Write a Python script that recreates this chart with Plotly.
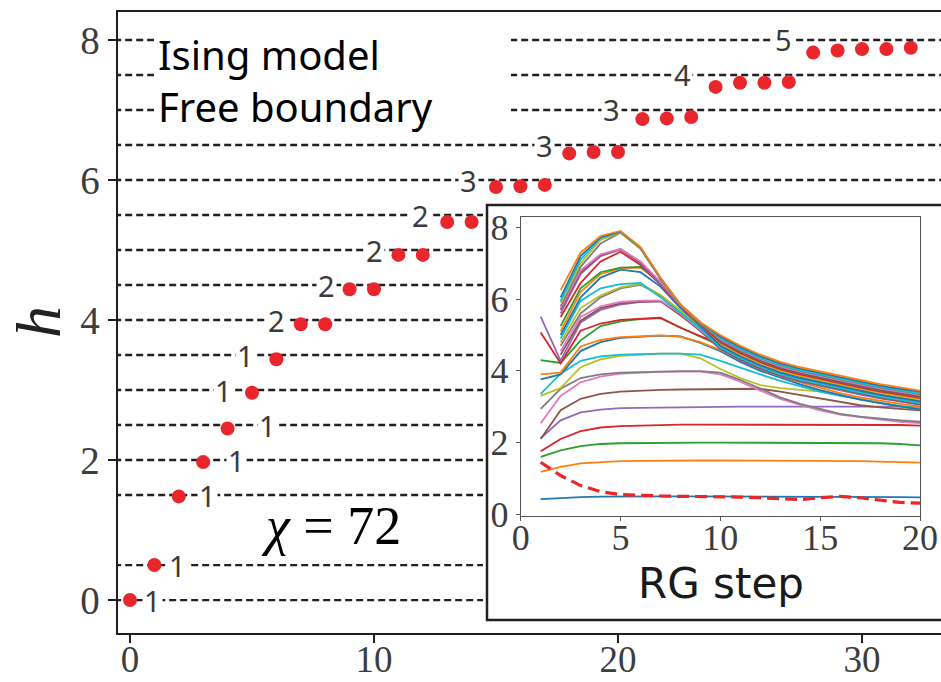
import plotly.graph_objects as go

# ---------------- data ----------------
state_index = list(range(33))
h_values = [0.00, 0.50, 1.48, 1.97, 2.45, 2.96, 3.44, 3.94, 3.94, 4.44, 4.44,
            4.93, 4.93, 5.40, 5.40, 5.90, 5.91, 5.93, 6.38, 6.40, 6.40,
            6.87, 6.88, 6.90, 7.33, 7.39, 7.39, 7.40, 7.82, 7.85, 7.87, 7.87, 7.89]

levels = [0, 0.5, 1.5, 2, 2.5, 3, 3.5, 4, 4.5, 5, 5.5, 6, 6.5, 7, 7.5, 8]
degeneracy = [1, 1, 1, 1, 1, 1, 1, 2, 2, 2, 2, 3, 3, 3, 4, 5]

main_xticks = [0, 10, 20, 30]
main_yticks = [0, 2, 4, 6, 8]
inset_xticks = [0, 5, 10, 15, 20]
inset_yticks = [0, 2, 4, 6, 8]

rg_steps = list(range(1, 21))
N = None
flow_01 = [0.42,0.46,0.48,0.49,0.50,0.50,0.50,0.50,0.50,0.50,0.50,0.50,0.50,0.50,0.50,0.50,0.49,0.48,0.48,0.47]
flow_02 = [1.18,1.32,1.42,1.46,1.48,1.49,1.50,1.50,1.50,1.50,1.50,1.50,1.50,1.50,1.50,1.49,1.48,1.47,1.46,1.44]
flow_03 = [1.60,1.78,1.90,1.96,1.98,1.99,2.00,2.00,2.00,2.00,2.00,2.00,2.00,2.00,2.00,2.00,1.99,1.98,1.96,1.92]
flow_04 = [1.76,2.10,2.32,2.42,2.46,2.48,2.49,2.50,2.50,2.50,2.50,2.50,2.50,2.51,2.51,2.51,2.50,2.50,2.49,2.47]
flow_05 = [2.12,2.62,2.84,2.92,2.96,2.97,2.98,2.99,2.99,3.00,3.00,3.00,3.00,3.00,3.01,3.01,3.01,3.00,3.00,3.00]
flow_06 = [2.10,2.90,3.22,3.36,3.42,3.45,3.47,3.48,3.49,3.49,3.50,3.50,3.42,3.32,3.22,3.12,3.04,2.98,2.94,2.90]
flow_07 = [2.54,3.30,3.68,3.84,3.92,3.95,3.97,3.98,3.98,3.90,3.70,3.45,3.22,3.05,2.90,2.78,2.70,2.64,2.58,2.54]
flow_08 = [2.94,3.50,3.80,3.90,3.95,3.97,3.98,3.99,3.99,3.95,3.75,3.50,3.26,3.08,2.93,2.80,2.72,2.66,2.62,2.58]
flow_09 = [3.30,3.52,4.10,4.32,4.42,4.46,4.48,4.48,4.35,4.05,3.80,3.60,3.52,3.47,3.42,3.32,3.20,3.10,3.00,2.92]
flow_10 = [3.36,3.92,4.28,4.40,4.45,4.47,4.48,4.48,4.45,4.28,4.08,3.90,3.72,3.56,3.42,3.30,3.20,3.10,3.02,2.95]
flow_11 = [3.76,3.90,4.55,4.80,4.92,4.96,4.98,4.96,4.78,4.55,4.25,4.00,3.80,3.62,3.46,3.32,3.20,3.10,3.00,2.92]
flow_12 = [3.90,3.95,4.68,4.86,4.94,4.97,4.99,4.95,4.80,4.58,4.30,4.05,3.85,3.68,3.52,3.38,3.26,3.16,3.08,3.00]
flow_13 = [4.30,4.22,4.85,5.25,5.38,5.44,5.47,5.20,4.95,4.70,4.44,4.20,4.00,3.84,3.70,3.56,3.44,3.32,3.20,3.10]
flow_14 = [5.07,4.21,5.12,5.32,5.42,5.46,5.48,5.20,4.98,4.74,4.50,4.26,4.06,3.90,3.75,3.61,3.49,3.38,3.29,3.20]
flow_15 = [5.51,4.28,5.35,5.70,5.85,5.92,5.95,5.60,5.10,4.60,4.30,4.05,3.85,3.70,3.58,3.45,3.34,3.23,3.14,3.05]
flow_16 = [N,4.45,5.40,5.75,5.88,5.93,5.94,5.55,5.12,4.62,4.32,4.07,3.87,3.72,3.60,3.47,3.36,3.25,3.16,3.07]
flow_17 = [N,4.55,5.50,5.80,5.92,5.96,5.96,5.60,5.15,4.68,4.38,4.13,3.93,3.78,3.66,3.53,3.42,3.31,3.22,3.13]
flow_18 = [N,4.70,5.60,6.05,6.30,6.40,6.10,5.65,5.20,4.72,4.42,4.17,3.97,3.82,3.70,3.57,3.46,3.35,3.26,3.17]
flow_19 = [N,4.80,5.75,6.10,6.33,6.42,6.12,5.68,5.22,4.75,4.45,4.20,4.00,3.85,3.73,3.60,3.49,3.38,3.29,3.20]
flow_20 = [N,4.90,5.95,6.30,6.42,6.45,6.05,5.62,5.18,4.65,4.35,4.10,3.90,3.75,3.63,3.50,3.39,3.28,3.19,3.10]
flow_21 = [N,5.00,6.05,6.60,6.82,6.75,6.35,5.75,5.25,4.70,4.40,4.15,3.95,3.80,3.68,3.55,3.44,3.33,3.24,3.15]
flow_22 = [N,5.10,6.20,6.70,6.86,6.88,6.45,5.80,5.30,4.78,4.48,4.23,4.03,3.88,3.76,3.63,3.52,3.41,3.32,3.23]
flow_23 = [N,5.25,6.30,6.75,6.88,6.90,6.50,5.82,5.30,4.84,4.54,4.29,4.09,3.94,3.82,3.69,3.58,3.47,3.38,3.29]
flow_24 = [N,5.50,6.45,7.05,7.32,6.95,6.40,5.80,5.30,4.80,4.50,4.25,4.05,3.90,3.78,3.65,3.54,3.43,3.34,3.25]
flow_25 = [N,5.60,6.70,7.20,7.38,7.00,6.42,5.82,5.32,4.86,4.56,4.31,4.11,3.96,3.84,3.71,3.60,3.49,3.40,3.31]
flow_26 = [N,5.70,6.75,7.22,7.40,7.02,6.45,5.83,5.32,4.82,4.52,4.27,4.07,3.92,3.80,3.67,3.56,3.45,3.36,3.27]
flow_27 = [N,5.75,6.80,7.25,7.40,7.05,6.48,5.84,5.33,4.88,4.58,4.33,4.13,3.98,3.86,3.73,3.62,3.51,3.42,3.33]
flow_28 = [N,5.80,6.90,7.55,7.85,7.40,6.56,5.83,5.33,4.90,4.60,4.35,4.15,4.00,3.88,3.75,3.64,3.53,3.44,3.35]
flow_29 = [N,5.90,7.00,7.65,7.86,7.42,6.58,5.84,5.34,4.94,4.64,4.39,4.19,4.04,3.92,3.79,3.68,3.57,3.48,3.39]
flow_30 = [N,5.95,7.10,7.70,7.88,7.43,6.58,5.84,5.34,4.92,4.62,4.37,4.17,4.02,3.90,3.77,3.66,3.55,3.46,3.37]
flow_31 = [N,6.05,7.20,7.72,7.88,7.44,6.59,5.85,5.35,4.96,4.66,4.41,4.21,4.06,3.94,3.81,3.70,3.59,3.50,3.42]
flow_32 = [N,6.25,7.30,7.76,7.90,7.45,6.60,5.85,5.35,5.00,4.70,4.45,4.25,4.10,3.98,3.85,3.74,3.63,3.54,3.45]
flow_dashed = [1.45,1.08,0.80,0.63,0.55,0.52,0.51,0.50,0.50,0.49,0.48,0.46,0.43,0.41,0.46,0.50,0.46,0.40,0.33,0.31]

flows = [flow_01, flow_02, flow_03, flow_04, flow_05, flow_06, flow_07, flow_08,
         flow_09, flow_10, flow_11, flow_12, flow_13, flow_14, flow_15, flow_16,
         flow_17, flow_18, flow_19, flow_20, flow_21, flow_22, flow_23, flow_24,
         flow_25, flow_26, flow_27, flow_28, flow_29, flow_30, flow_31, flow_32]

# ---------------- layout helpers ----------------
W, H = 941, 682


def px(x):
    return x / W


def py(y):
    return 1 - y / H


tab10 = ['#1f77b4', '#ff7f0e', '#2ca02c', '#d62728', '#9467bd',
         '#8c564b', '#e377c2', '#7f7f7f', '#bcbd22', '#17becf']
ink = '#231f20'
tick_col = '#3d3d3d'
dot_red = '#e8262b'

# label placement: offset (in x units) from first dot (left) or last dot (right)
label_side = ['r', 'r', 'r', 'r', 'r', 'l', 'l', 'l', 'l', 'l', 'l', 'l', 'l', 'l', 'l', 'l']
label_off = [0.91, 0.95, 1.18, 1.37, 1.64, 1.15, 1.26, 0.99, 0.94, 1.0, 1.09, 1.11, 1.03, 1.25, 1.34, 1.2]

fig = go.Figure()

# dashed level lines
dx, dy = [], []
for lv in levels:
    dx += [-2, 40, None]
    dy += [lv, lv, None]
fig.add_trace(go.Scatter(x=dx, y=dy, mode='lines', xaxis='x', yaxis='y',
                         line=dict(color=ink, width=2.3, dash='7px,4px'),
                         hoverinfo='skip', showlegend=False))
fig.add_trace(go.Scatter(x=state_index, y=h_values, mode='markers', xaxis='x', yaxis='y',
                         marker=dict(size=14, color=dot_red), cliponaxis=False,
                         showlegend=False))

# frame subplot (x2,y2): invisible helper trace so the subplot exists
fig.add_trace(go.Scatter(x=[600], y=[400], mode='markers', xaxis='x2', yaxis='y2',
                         marker=dict(size=1, opacity=0), hoverinfo='skip', showlegend=False))

# inset flows
for i, f in enumerate(flows):
    fig.add_trace(go.Scatter(x=rg_steps, y=f, mode='lines', xaxis='x3', yaxis='y3',
                             line=dict(color=tab10[i % 10], width=1.8),
                             hoverinfo='skip', showlegend=False))
fig.add_trace(go.Scatter(x=rg_steps, y=flow_dashed, mode='lines', xaxis='x3', yaxis='y3',
                         line=dict(color='#ee2427', width=3.2, dash='12px,6px'),
                         hoverinfo='skip', showlegend=False))

annotations = []
# degeneracy labels
for k, lv in enumerate(levels):
    idx = [i for i, v in enumerate(h_values) if abs(v - lv) < 0.25]
    if label_side[k] == 'r':
        xl = max(idx) + label_off[k]
    else:
        xl = min(idx) - label_off[k]
    annotations.append(dict(x=xl, y=lv, xref='x', yref='y', text=str(degeneracy[k]),
                            showarrow=False, font=dict(family='Noto Sans', size=29, color='#3a3a3a'),
                            bgcolor='white', borderpad=1, xanchor='center', yanchor='middle'))

annotations += [
    dict(x=px(156), y=py(80), xref='paper', yref='paper', xanchor='left', yanchor='middle',
         text='Ising model<br>Free boundary', align='left', showarrow=False,
         font=dict(family='Noto Sans', size=40, color='black')),
    dict(x=px(331), y=py(526), xref='paper', yref='paper', xanchor='center', yanchor='middle',
         text='<i>χ</i> = 72', showarrow=False,
         font=dict(family='Liberation Serif', size=54, color='black')),
    dict(x=px(38), y=py(322), xref='paper', yref='paper', xanchor='center', yanchor='middle',
         text='<i>h</i>', textangle=-90, showarrow=False,
         font=dict(family='Liberation Serif', size=64, color='#222222')),
    dict(x=px(721), y=py(583), xref='paper', yref='paper', xanchor='center', yanchor='middle',
         text='RG step', showarrow=False,
         font=dict(family='DejaVu Sans', size=42, color='#1a1a1a')),
]

shapes = [
    # white box behind the title text
    dict(type='rect', xref='paper', yref='paper', x0=px(154), x1=px(511), y0=py(130), y1=py(24),
         fillcolor='white', line=dict(width=0), layer='above'),
    # inset outer frame (drawn in frame subplot, above main traces)
    dict(type='rect', xref='x2', yref='y2', x0=487, x1=990, y0=205, y1=620,
         fillcolor='white', line=dict(color=ink, width=2.5), layer='below'),
]

tick_font_main = dict(family='Liberation Serif', size=39, color=tick_col)
tick_font_mainx = dict(family='Liberation Serif', size=37, color=tick_col)
tick_font_inset = dict(family='Liberation Serif', size=36, color=tick_col)

fig.update_layout(
    width=W, height=H,
    margin=dict(l=0, r=0, t=0, b=0, autoexpand=False),
    paper_bgcolor='white', plot_bgcolor='white',
    showlegend=False,
    annotations=annotations,
    shapes=shapes,
    xaxis=dict(domain=[px(117.5), 1], range=[-0.512, (941 - 130) / 24.4], anchor='y',
               showline=True, linecolor=ink, linewidth=2, mirror=True,
               ticks='outside', ticklen=8, tickwidth=1.5, tickcolor=ink,
               tickvals=main_xticks, ticktext=[str(t) for t in main_xticks],
               tickfont=tick_font_mainx, ticklabelstandoff=-15, automargin=False,
               showgrid=False, zeroline=False),
    yaxis=dict(domain=[py(633), py(12)], range=[-0.471, 8.4], anchor='x',
               showline=True, linecolor=ink, linewidth=2,
               ticks='outside', ticklen=8, tickwidth=1.5, tickcolor=ink,
               tickvals=main_yticks, ticktext=[str(t) for t in main_yticks],
               tickfont=tick_font_main, automargin=False,
               showgrid=False, zeroline=False),
    xaxis2=dict(domain=[px(483), 1], range=[483, 941], anchor='y2', visible=False,
                automargin=False),
    yaxis2=dict(domain=[py(624), py(201)], range=[624, 201], anchor='x2', visible=False,
                automargin=False),
    xaxis3=dict(domain=[px(520.7), px(920)], range=[0, 20], anchor='y3',
                showline=True, linecolor='#555555', linewidth=1, mirror=True,
                ticks='outside', ticklen=4, tickwidth=1, tickcolor='#555555',
                tickvals=inset_xticks, ticktext=[str(t) for t in inset_xticks],
                tickfont=tick_font_inset, ticklabelstandoff=-14, automargin=False,
                showgrid=False, zeroline=False),
    yaxis3=dict(domain=[py(515.7), py(217)], range=[-0.04, 8.29], anchor='x3',
                showline=True, linecolor='#555555', linewidth=1, mirror=True,
                ticks='outside', ticklen=4, tickwidth=1, tickcolor='#555555',
                tickvals=inset_yticks, ticktext=[str(t) for t in inset_yticks],
                tickfont=tick_font_inset, automargin=False,
                showgrid=False, zeroline=False),
)

fig.write_html('out.html')
